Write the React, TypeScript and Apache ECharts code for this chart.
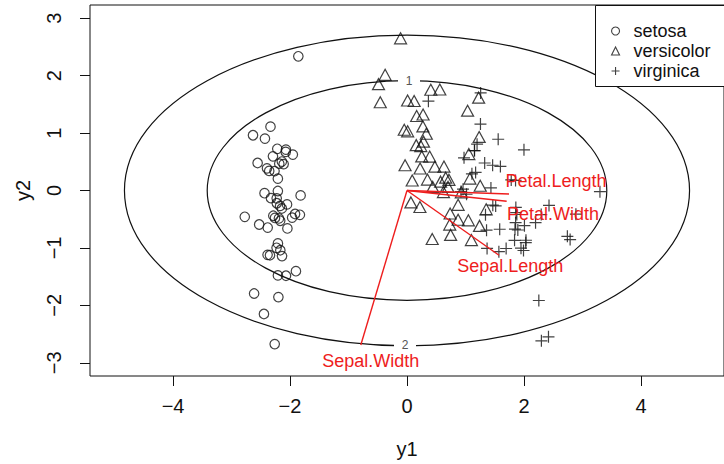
import React, { useEffect, useRef } from "react";
import * as echarts from "echarts";

// ---- data ----
const setosaY1 = [-2.257, -2.074, -2.356, -2.292, -2.382, -2.069, -2.436, -2.226, -2.334, -2.184, -2.166, -2.326, -2.218, -2.633, -2.199, -2.262, -2.207, -2.19, -1.899, -2.343, -1.914, -2.207, -2.774, -1.819, -2.228, -1.952, -2.051, -2.168, -2.14, -2.265, -2.14, -1.831, -2.614, -2.446, -2.109, -2.208, -2.045, -2.527, -2.429, -2.17, -2.286, -1.858, -2.554, -1.964, -2.137, -2.07, -2.384, -2.394, -2.23, -2.208];
const setosaY2 = [-0.478, 0.672, 0.341, 0.595, -0.645, -1.484, -0.047, -0.222, 1.112, 0.467, -1.04, -0.133, 0.726, 0.962, -1.856, -2.674, -1.478, -0.487, -1.405, -1.127, -0.409, -0.921, -0.458, -0.085, -0.137, 0.625, -0.242, -0.527, -0.313, 0.338, 0.504, -0.423, -1.794, -2.15, 0.46, 0.206, -0.661, -0.592, 0.904, -0.268, -0.44, 2.337, 0.479, -0.472, -1.142, 0.711, -1.12, 0.386, -0.998, -0.009];

const versicolorY1 = [1.101, 0.731, 1.24, 0.407, 1.075, 0.388, 0.746, -0.487, 0.928, 0.011, -0.11, 0.44, 0.561, 0.717, -0.033, 0.874, 0.35, 0.158, 1.225, 0.165, 0.737, 0.476, 1.234, 0.632, 0.702, 0.874, 1.252, 1.354, 0.662, -0.047, 0.122, 0.01, 0.236, 1.057, 0.221, 0.431, 1.049, 1.036, 0.067, 0.275, 0.272, 0.623, 0.33, -0.374, 0.282, 0.089, 0.224, 0.574, -0.457, 0.252];
const versicolorY2 = [-0.863, -0.594, -0.616, 1.754, 0.208, 0.591, -0.773, 1.852, -0.032, 1.03, 2.65, 0.063, 1.759, 0.186, 0.439, -0.509, 0.19, 0.79, 1.617, 1.298, -0.401, 0.415, 0.933, 0.416, 0.063, -0.25, 0.083, -0.328, 0.224, 1.057, 1.558, 1.567, 0.773, 0.634, -0.287, -0.844, -0.52, 1.39, -0.207, 1.324, 1.116, -0.027, 0.988, 2.014, 0.851, 0.175, 0.383, 0.154, 1.536, 0.593];

const virginicaY1 = [1.839, 1.154, 2.198, 1.435, 1.861, 2.742, 0.366, 2.295, 2.0, 2.254, 1.36, 1.597, 1.878, 1.256, 1.464, 1.585, 1.467, 2.419, 3.299, 1.259, 2.031, 0.975, 2.888, 1.328, 1.695, 1.949, 1.173, 1.018, 1.782, 1.857, 2.428, 2.298, 1.856, 1.11, 1.198, 2.789, 1.571, 1.342, 0.923, 1.846, 2.008, 1.895, 1.154, 2.034, 1.992, 1.864, 1.559, 1.516, 1.369, 0.958];
const virginicaY2 = [-0.867, 0.695, -0.561, 0.045, -0.294, -0.798, 1.555, -0.42, 0.708, -1.915, -0.691, 0.419, -0.418, 1.157, 0.44, -0.675, -0.255, -2.548, -0.02, 1.699, -0.908, 0.569, -0.413, 0.479, -1.01, -1.005, 0.314, -0.065, 0.185, -0.56, -0.26, -2.617, 0.176, 0.291, 0.806, -0.855, -1.065, -0.422, -0.018, -0.674, -0.612, -0.688, 0.695, -0.866, -1.045, -0.386, 0.892, -0.268, -1.009, 0.023];

const speciesNames = ["setosa", "versicolor", "virginica"];

const loadingNames = ["Sepal.Length", "Sepal.Width", "Petal.Length", "Petal.Width"];
const loadingY1 = [1.574, -0.79, 1.744, 1.704];
const loadingY2 = [-1.127, -2.69, -0.06, -0.187];
const loadingLabelY1 = [1.766, -0.62, 2.548, 2.497];
const loadingLabelY2 = [-1.306, -2.965, 0.164, -0.406];

const ellipseLevels = ["1", "2"];
const ellipseSemiY1 = [3.416, 4.831];
const ellipseSemiY2 = [1.912, 2.704];

const xTicks = [-4, -2, 0, 2, 4];
const yTicks = [-3, -2, -1, 0, 1, 2, 3];

const FONT = "'Liberation Sans', Arial, Helvetica, sans-serif";
const INK = "#111111";
const RED = "#ee1d1d";
const PLUS = "path://M0,5L10,5M5,0L5,10";

const fmt = (v: number) => (v < 0 ? "\u2212" + Math.abs(v) : String(v));

export default function App() {
  const ref = useRef<HTMLDivElement>(null);

  useEffect(() => {
    const chart = echarts.init(ref.current as HTMLDivElement, null, { renderer: "svg" });
    const pts = (xs: number[], ys: number[]) => xs.map((x, i) => [x, ys[i]]);
    const hollow = { color: "transparent", borderColor: INK, borderWidth: 1.2 };
    const legendHollow = { color: "transparent", borderColor: INK, borderWidth: 1.1 };

    const option: any = {
      animation: false,
      backgroundColor: "#ffffff",
      textStyle: { fontFamily: FONT },
      grid: {
        left: 90,
        top: 5,
        width: 638,
        height: 373,
        show: true,
        borderColor: INK,
        borderWidth: 1,
        backgroundColor: "transparent",
      },
      xAxis: {
        type: "value",
        min: -5.42,
        max: 5.42,
        name: "y1",
        nameLocation: "middle",
        nameGap: 63,
        nameTextStyle: { fontSize: 20, color: INK, fontFamily: FONT },
        axisLine: { show: false, onZero: false },
        axisTick: { show: true, length: 10, customValues: xTicks, lineStyle: { color: INK } },
        axisLabel: { customValues: xTicks, fontSize: 20, color: INK, margin: 20, fontFamily: FONT, formatter: fmt },
        splitLine: { show: false },
      },
      yAxis: {
        type: "value",
        min: -3.23,
        max: 3.23,
        name: "y2",
        nameLocation: "middle",
        nameGap: 57,
        nameRotate: 90,
        nameTextStyle: { fontSize: 20, color: INK, fontFamily: FONT },
        axisLine: { show: false, onZero: false },
        axisTick: { show: true, length: 10, customValues: yTicks, lineStyle: { color: INK } },
        axisLabel: { customValues: yTicks, fontSize: 20, color: INK, margin: 26, rotate: 90, fontFamily: FONT, formatter: fmt },
        splitLine: { show: false },
      },
      legend: {
        orient: "vertical",
        left: 606,
        top: 17,
        itemWidth: 8,
        itemHeight: 8,
        itemGap: 2,
        selectedMode: false,
        z: 6,
        textStyle: { fontSize: 18, color: INK, fontFamily: FONT, padding: [0, 0, 0, 9] },
        data: [
          { name: speciesNames[0], icon: "circle", itemStyle: legendHollow },
          { name: speciesNames[1], icon: "triangle", itemStyle: legendHollow },
          { name: speciesNames[2], icon: PLUS, itemStyle: legendHollow },
        ],
      },
      graphic: [
        {
          type: "rect",
          x: 595.5,
          y: 5.5,
          z: 5,
          shape: { x: 0, y: 0, width: 200, height: 81 },
          style: { fill: "#ffffff", stroke: INK, lineWidth: 1 },
        },
      ],
      series: [
        {
          type: "custom",
          name: "contours",
          silent: true,
          data: ellipseSemiY1.map((a, i) => [a, ellipseSemiY2[i]]),
          renderItem: (params: any, api: any) => {
            const c = api.coord([0, 0]);
            const e = api.coord([api.value(0), api.value(1)]);
            const rx = e[0] - c[0];
            const ry = c[1] - e[1];
            const top = params.dataIndex === 0;
            const ly = top ? c[1] - ry : c[1] + ry - 1;
            const lx = top ? c[0] + 2 : c[0] - 2;
            return {
              type: "group",
              children: [
                {
                  type: "ellipse",
                  shape: { cx: c[0], cy: c[1], rx, ry },
                  style: { fill: "none", stroke: INK, lineWidth: 1.2 },
                },
                {
                  type: "rect",
                  shape: { x: lx - 11, y: ly - 4, width: 22, height: 8 },
                  style: { fill: "#ffffff", stroke: "none" },
                },
                {
                  type: "text",
                  x: lx,
                  y: ly,
                  style: {
                    text: ellipseLevels[params.dataIndex],
                    fill: "#555555",
                    fontSize: 12,
                    lineHeight: 10,
                    fontFamily: FONT,
                    align: "center",
                    verticalAlign: "middle",
                  },
                },
              ],
            };
          },
        },
        {
          type: "scatter",
          name: speciesNames[0],
          symbol: "circle",
          symbolSize: 9.5,
          itemStyle: hollow,
          data: pts(setosaY1, setosaY2),
        },
        {
          type: "scatter",
          name: speciesNames[1],
          symbol: "triangle",
          symbolSize: [12, 11],
          itemStyle: hollow,
          data: pts(versicolorY1, versicolorY2),
        },
        {
          type: "scatter",
          name: speciesNames[2],
          symbol: PLUS,
          symbolSize: 12,
          itemStyle: hollow,
          data: pts(virginicaY1, virginicaY2),
        },
        {
          type: "custom",
          name: "loadings",
          silent: true,
          z: 3,
          data: loadingY1.map((x, i) => [x, loadingY2[i], loadingLabelY1[i], loadingLabelY2[i]]),
          renderItem: (params: any, api: any) => {
            const o = api.coord([0, 0]);
            const t = api.coord([api.value(0), api.value(1)]);
            const l = api.coord([api.value(2), api.value(3)]);
            return {
              type: "group",
              children: [
                {
                  type: "line",
                  shape: { x1: o[0], y1: o[1], x2: t[0], y2: t[1] },
                  style: { stroke: RED, lineWidth: 1.4 },
                },
                {
                  type: "text",
                  x: l[0],
                  y: l[1],
                  style: {
                    text: loadingNames[params.dataIndex],
                    fill: RED,
                    fontSize: 18,
                    lineHeight: 18,
                    fontFamily: FONT,
                    align: "center",
                    verticalAlign: "middle",
                  },
                },
              ],
            };
          },
        },
      ],
    };

    chart.setOption(option);
    return () => chart.dispose();
  }, []);

  return (
    <div
      ref={ref}
      style={{ position: "fixed", left: 0, top: 0, width: 724, height: 464, background: "#fff" }}
    />
  );
}
